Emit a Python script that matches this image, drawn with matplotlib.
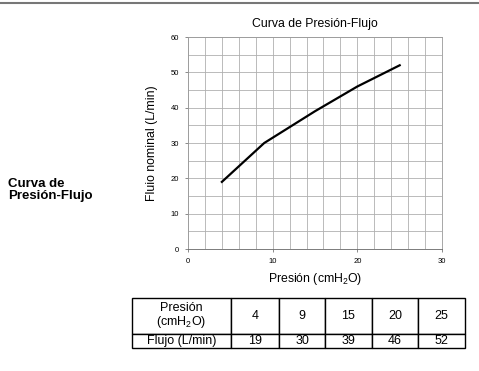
import numpy as np
import matplotlib
matplotlib.use('Agg')
import matplotlib.pyplot as plt
from matplotlib.lines import Line2D

plt.rcParams['font.family'] = ['Liberation Sans', 'DejaVu Sans']
plt.rcParams['mathtext.fontset'] = 'custom'
plt.rcParams['mathtext.rm'] = 'Liberation Sans'

presion = [4, 9, 15, 20, 25]
flujo = [19, 30, 39, 46, 52]
row_labels = ['Presión\n(cmH$\\mathregular{_2}$O)', 'Flujo (L/min)']

fig = plt.figure(figsize=(4.79, 3.71), dpi=100)

# top rule
fig.add_artist(Line2D([0, 1], [0.993, 0.993], color='#777777', lw=1.5, transform=fig.transFigure))

fig.text(0.017, 0.487, 'Curva de\nPresión-Flujo', fontsize=9.5, fontweight='bold',
         ha='left', va='center', linespacing=1.0)

ax = fig.add_axes([0.3925, 0.3288, 0.5303, 0.5714])
ax.plot(presion, flujo, color='black', lw=1.6, solid_joinstyle='round')
ax.set_xlim(0, 30)
ax.set_ylim(0, 60)
ax.set_xticks([0, 10, 20, 30])
ax.set_yticks([0, 10, 20, 30, 40, 50, 60])
ax.set_xticks(np.arange(0, 31, 2), minor=True)
ax.set_yticks(np.arange(0, 61, 5), minor=True)
ax.grid(which='minor', color='#b0b0b0', lw=0.6)
ax.grid(which='major', color='#b0b0b0', lw=0.6)
ax.tick_params(which='minor', length=0)
ax.tick_params(which='major', length=2.5, width=0.6, color='#777777', labelsize=5.5, pad=4)
for s in ax.spines.values():
    s.set_color('#999999')
    s.set_linewidth(0.6)
ax.spines['bottom'].set_color('#666666')
ax.set_axisbelow(True)
ax.set_title('Curva de Presión-Flujo', fontsize=8.8, pad=7)
ax.set_xlabel('Presión (cmH$\\mathregular{_2}$O)', fontsize=8.8, labelpad=4)
ax.set_ylabel('Fluio nominal (L/min)', fontsize=8.8, labelpad=9)

# table
tax = fig.add_axes([132/479, (371-348)/371, (465-132)/479, (348-298)/371])
tax.axis('off')
cells = [[row_labels[0]] + [str(p) for p in presion],
         [row_labels[1]] + [str(f) for f in flujo]]
widths = np.array([99, 48, 46, 47, 46, 47]) / 333
tbl = tax.table(cellText=cells, cellLoc='center', bbox=[0, 0, 1, 1], colWidths=list(widths))
tbl.auto_set_font_size(False)
for (r, c), cell in tbl.get_celld().items():
    cell.set_linewidth(1.0)
    cell.set_edgecolor('black')
    cell.get_text().set_fontsize(9)
    cell.get_text().set_linespacing(1.0)
    cell.set_height(36/50 if r == 0 else 14/50)

plt.savefig('out.png', dpi=100)
